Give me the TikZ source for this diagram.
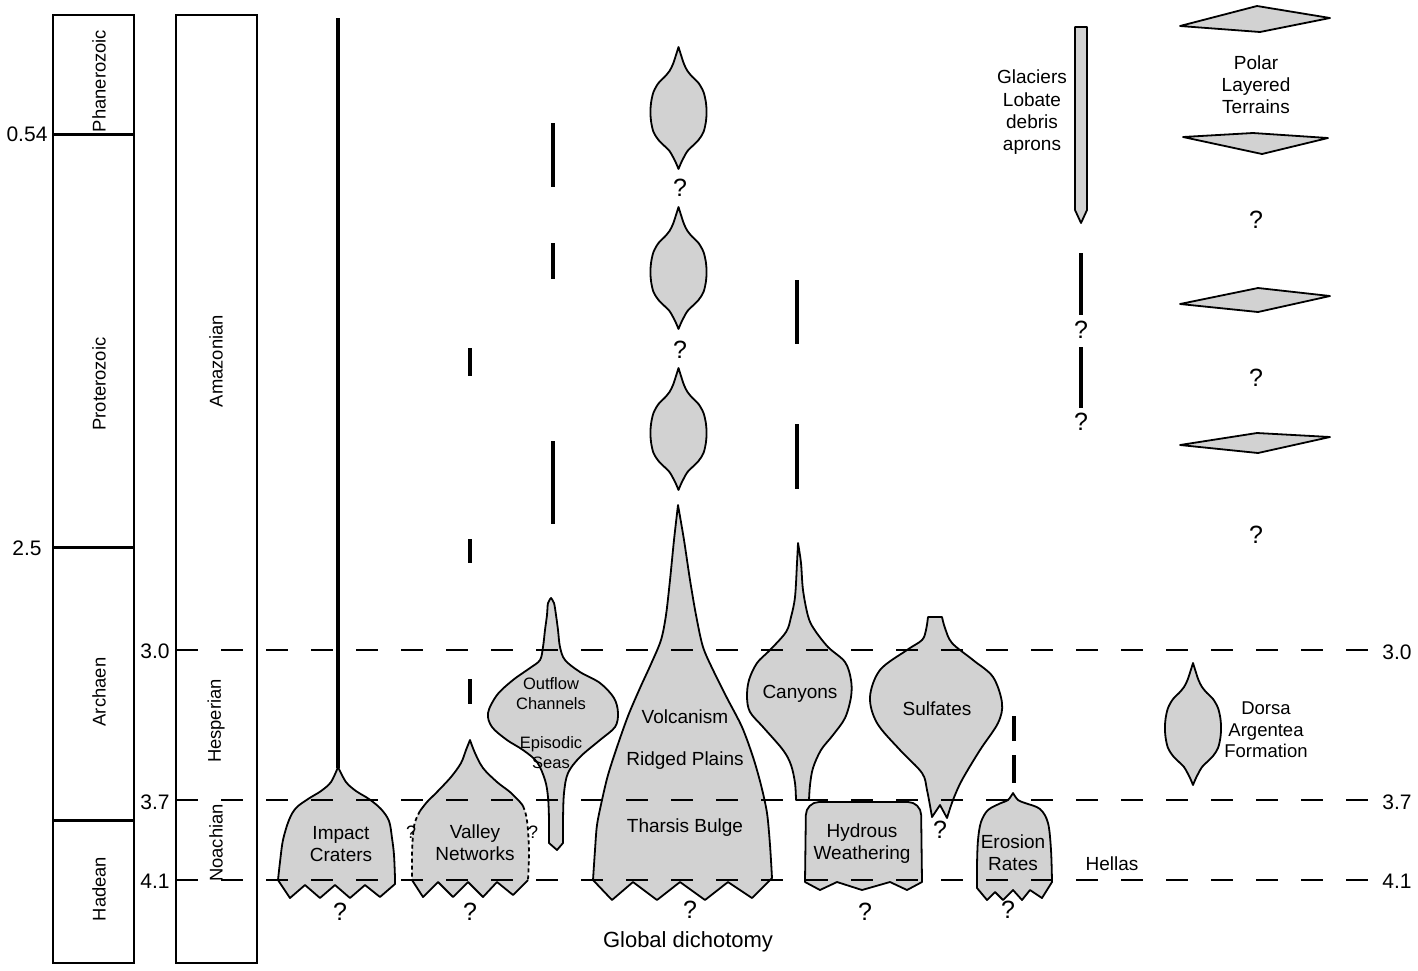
\documentclass[tikz,border=0pt]{standalone}
\usepackage{fontspec}
\setmainfont{Liberation Sans}
\definecolor{shapegray}{RGB}{210,210,210}
\tikzset{
  sh/.style={draw=black, line width=1.8pt, fill=shapegray, line join=round},
  outl/.style={draw=black, line width=1.8pt, line join=round},
  vbar/.style={line width=3.5pt},
  hdash/.style={line width=1.8pt, dash pattern=on 22pt off 23pt},
  lab/.style={font=\fontsize{19}{22}\selectfont, align=center, inner sep=0pt},
  slab/.style={font=\fontsize{16.5}{20}\selectfont, align=center, inner sep=0pt},
  qm/.style={font=\fontsize{25}{26}\selectfont, inner sep=0pt},
  sqm/.style={font=\fontsize{18}{18}\selectfont, inner sep=0pt},
  num/.style={font=\fontsize{21}{22}\selectfont, inner sep=0pt},
  era/.style={font=\fontsize{18.4}{20}\selectfont, inner sep=0pt, rotate=90},
  spindle/.pic={
    \path[sh] plot[smooth,tension=0.55] coordinates {(0,0) (2.5,8) (5.5,17) (9,24) (14,30) (20,36) (25,45) (27.5,56) (28,65) (27.5,74) (25,85) (20,93) (14,99) (9,104) (5.5,110) (2.5,116) (0,122)}
      -- plot[smooth,tension=0.55] coordinates {(0,122) (-2.5,116) (-5.5,110) (-9,104) (-14,99) (-20,93) (-25,85) (-27.5,74) (-28,65) (-27.5,56) (-25,45) (-20,36) (-14,30) (-9,24) (-5.5,17) (-2.5,8) (0,0)} -- cycle;
  }
}
\begin{document}
\begin{tikzpicture}[x=1pt,y=-1pt]
\useasboundingbox (0,0) rectangle (1418,970);
% time columns
\draw[line width=1.8pt] (53,15) rectangle (134,963);
\draw[line width=1.8pt] (176,15) rectangle (257,963);
\draw[line width=3pt] (53,134) -- (134,134);
\draw[line width=3pt] (53,547) -- (134,547);
\draw[line width=3pt] (53,820) -- (134,820);
\node[era] (phan) at (99,81) {Phanerozoic};
\node[era] (prot) at (99,384) {Proterozoic};
\node[era] (arch) at (99,692) {Archaen};
\node[era] (hade) at (99,889) {Hadean};
\node[era] (amaz) at (216,361) {Amazonian};
\node[era] (hesp) at (216,721) {Hesperian};
\node[era] (noac) at (216,843) {Noachian};
\node[num] (n054) at (27,134) {0.54};
\node[num] (n25) at (27,548) {2.5};
\node[num] (n30) at (155,651) {3.0};
\node[num] (n37) at (155,802) {3.7};
\node[num] (n41) at (155,881) {4.1};
\node[num] (r30) at (1397,652) {3.0};
\node[num] (r37) at (1397,802) {3.7};
\node[num] (r41) at (1397,881) {4.1};

% vertical bars
\draw[vbar] (338,18) -- (338,768);
\draw[vbar] (470,348) -- (470,376);
\draw[vbar] (470,539) -- (470,563);
\draw[vbar] (470,679) -- (470,704);
\draw[vbar] (553,123) -- (553,187);
\draw[vbar] (553,243) -- (553,279);
\draw[vbar] (553,441) -- (553,524);
\draw[vbar] (797,280) -- (797,344);
\draw[vbar] (797,424) -- (797,489);
\draw[vbar] (1014,716) -- (1014,741);
\draw[vbar] (1014,755) -- (1014,783);
\draw[vbar] (1081,253) -- (1081,315);
\draw[vbar] (1081,347) -- (1081,408);

% Impact craters
\path[sh] (278,880) -- (290,898) -- (305,885) -- (320,898) -- (335,885) -- (350,898) -- (365,885) -- (380,897) -- (395,884) -- (395,878)
  -- plot[smooth,tension=0.55] coordinates {(395,878) (394,855) (392,838) (389,821) (381,809) (369,799) (356,791) (346,782) (338,767)}
  -- plot[smooth,tension=0.55] coordinates {(338,767) (331,782) (321,791) (308,799) (296,808) (289,820) (283,840) (280,862) (278,880)} -- cycle;

% Valley networks
\fill[shapegray] (412,880) -- (423,897) -- (438,882) -- (453,897) -- (468,882) -- (483,897) -- (497,882) -- (513,895) -- (528,880)
  -- plot[smooth,tension=0.55] coordinates {(528,880) (529,860) (528,830) (525,810) (520,802) (510,792) (497,782) (483,768) (475,753) (470,740)}
  -- plot[smooth,tension=0.55] coordinates {(470,740) (466,750) (461,763) (451,777) (437,792) (427,802) (419,812) (413,830) (412,850) (412,880)} -- cycle;
\draw[outl] plot[smooth,tension=0.55] coordinates {(420,811) (427,802) (437,792) (451,777) (461,763) (466,750) (470,740)}
  -- plot[smooth,tension=0.55] coordinates {(470,740) (475,753) (483,768) (497,782) (510,792) (520,802) (523,806)};
\draw[outl, dash pattern=on 4pt off 3pt] plot[smooth,tension=0.55] coordinates {(420,811) (415,822) (413,835) (412,855) (412,880)};
\draw[outl, dash pattern=on 4pt off 3pt] plot[smooth,tension=0.55] coordinates {(523,806) (526,815) (528,830) (529,855) (528,880)};
\draw[outl] (412,880) -- (423,897) -- (438,882) -- (453,897) -- (468,882) -- (483,897) -- (497,882) -- (513,895) -- (528,880);
\node[sqm] (vq1) at (411,832) {?};
\node[sqm] (vq2) at (533,832) {?};

% Outflow channels
\path[sh] plot[smooth,tension=0.55] coordinates {(551,598) (554,603) (556,615) (558,630) (560,647) (565,660) (580,672) (600,683) (614,698) (618,713) (615,727) (600,740) (580,757) (568,773) (564,793) (563,820) (563,843)}
  -- (557,850) -- (549,843)
  -- plot[smooth,tension=0.55] coordinates {(549,843) (549,820) (548,797) (545,780) (537,762) (523,750) (507,740) (492,727) (488,713) (497,695) (513,680) (530,668) (540,660) (543,647) (545,630) (547,615) (548,603) (551,598)} -- cycle;

% Volcanism
\path[sh] (593,880) -- (612,900) -- (633,882) -- (657,900) -- (680,882) -- (705,900) -- (728,882) -- (752,898) -- (772,878)
  -- plot[smooth,tension=0.5] coordinates {(772,878) (770,845) (767,813) (761,785) (753,757) (742,727) (727,698) (714,672) (703,647) (696,615) (690,580) (684,540) (678,505)}
  -- plot[smooth,tension=0.5] coordinates {(678,505) (674,540) (670,580) (666,615) (661,640) (651,664) (640,688) (628,716) (617,747) (608,775) (602,800) (597,825) (595,850) (593,880)} -- cycle;

% spindles
\pic at (678.5,47) {spindle};
\pic at (678.5,207) {spindle};
\pic at (678.5,368) {spindle};
\pic at (1193,663) {spindle};

% Canyons
\path[sh] (796,800) -- plot[smooth,tension=0.55] coordinates {(796,800) (795,783) (791,765) (783,750) (763,727) (750,712) (747,697) (749,680) (757,663) (770,650) (786,632) (791,617) (795,597) (797,563) (798,543)}
  -- plot[smooth,tension=0.55] coordinates {(798,543) (801,563) (803,590) (808,616) (814,629) (828,647) (845,662) (851,680) (851,697) (845,718) (833,735) (821,750) (813,768) (810,785) (809,800)} -- cycle;

% Sulfates
\path[sh] (928,617) -- (942,617) -- plot[smooth,tension=0.55] coordinates {(942,617) (945,628) (952,643) (973,660) (993,677) (1002,703) (998,723) (980,750) (962,780) (953,800) (947,818)}
  -- (940,805) -- (932,817)
  -- plot[smooth,tension=0.55] coordinates {(932,817) (927,790) (922,773) (900,750) (877,723) (870,697) (880,670) (907,650) (922,640) (926,630) (928,617)} -- cycle;

% Hydrous weathering
\path[sh] (922,882) -- (907,890) -- (890,882) -- (862,890) -- (837,882) -- (820,890) -- (805,882) [rounded corners=13pt] -- (806,802) -- (921,802) [sharp corners] -- (922,882) -- cycle;

% Erosion rates
\path[sh] (977,888) -- (987,900) -- (995,892) -- (1003,900) -- (1013,890) -- (1022,900) -- (1030,890) -- (1042,898) -- (1052,882)
  -- plot[smooth,tension=0.55] coordinates {(1052,882) (1051,850) (1048,823) (1040,809) (1025,803) (1018,800) (1013,793)}
  -- plot[smooth,tension=0.55] coordinates {(1013,793) (1008,800) (1001,803) (988,810) (981,822) (978,840) (977,865) (977,888)} -- cycle;

% Glaciers bar
\path[sh] (1075,27) -- (1087,27) -- (1087,210) -- (1081,223) -- (1075,210) -- cycle;

% Polar layered terrain slabs
\path[sh] (1180,26) -- (1257,6) -- (1330,18) -- (1260,32) -- cycle;
\path[sh] (1183,137) -- (1253,133) -- (1328,138) -- (1262,154) -- cycle;
\path[sh] (1180,304) -- (1258,288) -- (1330,296) -- (1258,312) -- cycle;
\path[sh] (1180,445) -- (1257,433) -- (1330,437) -- (1258,453) -- cycle;

% horizontal dashed time lines
\coordinate (a30) at (176,650); \coordinate (b30) at (1376,650);
\coordinate (a37) at (176,800); \coordinate (b37) at (1376,800);
\coordinate (a41) at (176,880); \coordinate (b41) at (1376,880);
\draw[hdash] (a30) -- (b30);
\draw[hdash] (a37) -- (b37);
\draw[hdash] (a41) -- (b41);

% labels
\node[lab] (impact) at (341,844) {Impact\\Craters};
\node[lab] (valley) at (475,843) {Valley\\Networks};
\node[slab] (outflow) at (551,694) {Outflow\\Channels};
\node[slab] (seas) at (551,753) {Episodic\\Seas};
\node[lab] (volc) at (685,717) {Volcanism};
\node[lab] (ridged) at (685,761) {Ridged Plains};
\node[lab] (tharsis) at (685,828) {Tharsis Bulge};
\node[lab] (canyons) at (800,694) {Canyons};
\node[lab] (sulf) at (937,709) {Sulfates};
\node[lab] (hydrous) at (862,844) {Hydrous\\Weathering};
\node[lab] (erosion) at (1013,853) {Erosion\\Rates};
\node[lab] (hellas) at (1112,864) {Hellas};
\node[lab, font=\fontsize{19}{22.3}\selectfont] (glac) at (1032,112.5) {Glaciers\\Lobate\\debris\\aprons};
\node[lab] (polar) at (1256,85) {Polar\\Layered\\Terrains};
\node[lab, font=\fontsize{18.5}{21.5}\selectfont] (dorsa) at (1266,730) {Dorsa\\Argentea\\Formation};
\node[lab, font=\fontsize{22}{24}\selectfont] (dich) at (688,942) {Global dichotomy};

% question marks
\node[qm] (q1) at (340,912) {?};
\node[qm] (q2) at (470,912) {?};
\node[qm] (q3) at (690,910) {?};
\node[qm] (q4) at (865,912) {?};
\node[qm] (q5) at (940,830) {?};
\node[qm] (q6) at (1008,910) {?};
\node[qm] (q7) at (680,188) {?};
\node[qm] (q8) at (680,350) {?};
\node[qm] (q9) at (1081,330) {?};
\node[qm] (q10) at (1081,422) {?};
\node[qm] (q11) at (1256,220) {?};
\node[qm] (q12) at (1256,378) {?};
\node[qm] (q13) at (1256,535) {?};
\end{tikzpicture}
\end{document}
